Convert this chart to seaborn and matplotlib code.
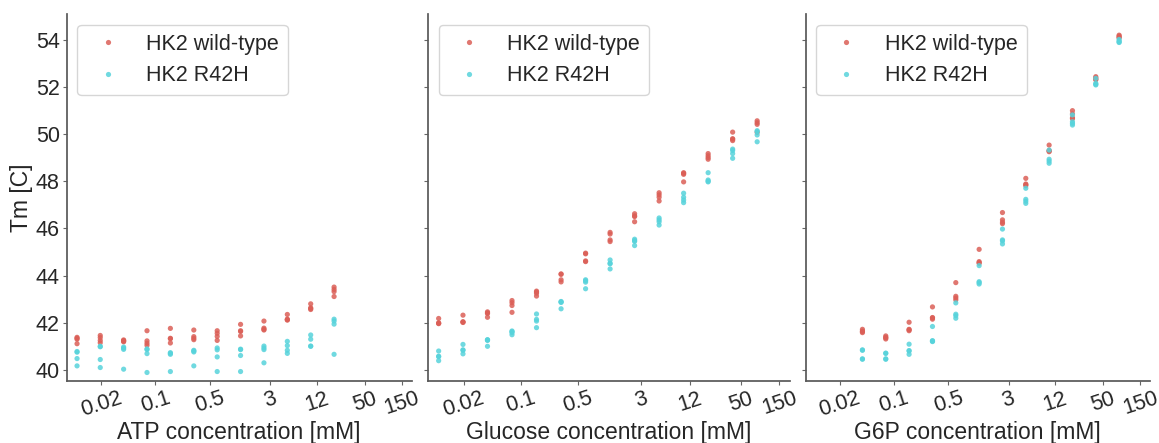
import numpy as np
import pandas as pd
import matplotlib
matplotlib.use("Agg")
import matplotlib.pyplot as plt
import seaborn as sns
from matplotlib.ticker import NullLocator, FixedLocator, FixedFormatter

# ---------------- data ----------------
series_names = ["HK2 wild-type", "HK2 R42H"]

atp_conc = [0.0098, 0.0195, 0.039, 0.078, 0.156, 0.3125, 0.625, 1.25, 2.5, 5, 10, 20]
atp_wt = [
    [41.38, 41.34, 41.30, 41.11], [41.46, 41.37, 41.25, 41.15], [41.27, 41.24, 41.22, 41.19],
    [41.66, 41.23, 41.13, 41.04], [41.76, 41.34, 41.32, 41.14], [41.69, 41.41, 41.34, 41.28],
    [41.66, 41.55, 41.42, 41.25], [41.93, 41.66, 41.63, 41.44], [42.07, 41.77, 41.72, 41.69],
    [42.35, 42.15, 42.13, 42.11], [42.80, 42.63, 42.60, 42.56], [43.51, 43.41, 43.32, 43.11],
]
atp_mut = [
    [40.78, 40.75, 40.48, 40.17], [41.00, 40.98, 40.44, 40.10], [40.97, 40.92, 40.87, 40.03],
    [40.89, 40.86, 40.69, 39.89], [40.73, 40.70, 40.66, 39.93], [40.83, 40.80, 40.76, 40.17],
    [40.93, 40.85, 40.55, 39.93], [40.88, 40.86, 40.61, 39.93], [41.01, 40.93, 40.86, 40.30],
    [41.21, 41.03, 40.83, 40.70], [41.48, 41.30, 41.01, 41.00], [42.15, 42.07, 41.94, 40.66],
]

glc_conc = [0.0098, 0.0195, 0.039, 0.078, 0.156, 0.3125, 0.625, 1.25, 2.5, 5, 10, 20, 40, 80]
glc_wt = [
    [42.18, 41.99, 41.98, 41.96], [42.32, 42.04, 42.03, 42.01], [42.46, 42.42, 42.39, 42.23],
    [42.94, 42.85, 42.73, 42.44], [43.34, 43.30, 43.25, 43.13], [44.07, 44.05, 43.82, 43.73],
    [44.95, 44.92, 44.62, 44.59], [45.83, 45.76, 45.51, 45.44], [46.62, 46.53, 46.50, 46.28],
    [47.51, 47.42, 47.32, 47.16], [48.36, 48.33, 48.29, 47.97], [49.17, 49.08, 49.00, 48.93],
    [50.08, 49.80, 49.78, 49.72], [50.56, 50.48, 50.41, 50.07],
]
glc_mut = [
    [40.80, 40.58, 40.56, 40.39], [41.08, 40.85, 40.83, 40.68], [41.28, 41.27, 41.25, 41.00],
    [41.65, 41.62, 41.58, 41.49], [42.37, 42.14, 42.07, 41.79], [42.90, 42.88, 42.86, 42.59],
    [43.82, 43.78, 43.72, 43.44], [44.66, 44.52, 44.50, 44.28], [45.54, 45.48, 45.45, 45.27],
    [46.44, 46.36, 46.28, 46.14], [47.49, 47.32, 47.20, 47.09], [48.36, 48.05, 48.00, 47.97],
    [49.36, 49.30, 49.17, 48.97], [50.14, 50.10, 49.96, 49.67],
]

g6p_conc = [0.039, 0.078, 0.156, 0.3125, 0.625, 1.25, 2.5, 5, 10, 20, 40, 80]
g6p_wt = [
    [41.72, 41.65, 41.62, 41.58], [41.44, 41.38, 41.36, 41.31], [42.02, 41.72, 41.70, 41.66],
    [42.67, 42.22, 42.20, 42.15], [43.70, 43.12, 43.05, 42.97], [45.11, 44.59, 44.55, 44.52],
    [46.67, 46.36, 46.26, 46.20], [48.12, 47.88, 47.85, 47.81], [49.53, 49.30, 49.28, 49.25],
    [50.99, 50.85, 50.69, 50.65], [52.43, 52.38, 52.32, 52.30], [54.19, 54.15, 54.10, 54.08],
]
g6p_mut = [
    [40.85, 40.83, 40.47, 40.45], [40.71, 40.70, 40.47, 40.45], [41.09, 40.82, 40.80, 40.66],
    [41.84, 41.24, 41.22, 41.20], [42.84, 42.36, 42.30, 42.19], [44.42, 43.74, 43.70, 43.64],
    [45.97, 45.51, 45.47, 45.34], [47.70, 47.23, 47.15, 47.06], [49.32, 48.93, 48.85, 48.76],
    [50.81, 50.52, 50.45, 50.38], [52.36, 52.15, 52.11, 52.08], [54.01, 53.95, 53.90, 53.88],
]

panel_xlabels = ["ATP concentration [mM]", "Glucose concentration [mM]", "G6P concentration [mM]"]
x_ticks = [0.02, 0.1, 0.5, 3, 12, 50, 150]
x_ticklabels = ["0.02", "0.1", "0.5", "3", "12", "50", "150"]
y_ticks = [40, 42, 44, 46, 48, 50, 52, 54]
y_label = "Tm [C]"

# ---------------- build frames ----------------
def long_frame(conc, wt, mut):
    rows = []
    for name, vals in zip(series_names, [wt, mut]):
        for c, reps in zip(conc, vals):
            for v in reps:
                rows.append({"conc": c, "Tm": v, "variant": name})
    return pd.DataFrame(rows)

frames = [long_frame(atp_conc, atp_wt, atp_mut),
          long_frame(glc_conc, glc_wt, glc_mut),
          long_frame(g6p_conc, g6p_wt, g6p_mut)]

# ---------------- style ----------------
sns.set_theme(style="ticks")
plt.rcParams["font.family"] = ["Liberation Sans", "DejaVu Sans"]
palette = sns.color_palette("hls", 2)

fig = plt.figure(figsize=(11.59, 4.43), dpi=100)
gs = fig.add_gridspec(1, 3, width_ratios=[345, 361.7, 344.3],
                      left=0.0575, right=0.9922, bottom=0.14, top=0.968, wspace=0.0457)
axes = []
for i in range(3):
    ax = fig.add_subplot(gs[i], sharey=axes[0] if axes else None)
    axes.append(ax)

tick_fs = 15.5
label_fs = 16.5
for i, (ax, df) in enumerate(zip(axes, frames)):
    sns.scatterplot(data=df, x="conc", y="Tm", hue="variant", hue_order=series_names,
                    palette=palette, s=14, linewidth=0, alpha=0.85, ax=ax)
    ax.set_xscale("log")
    ax.set_xlim(0.0072, 200)
    ax.set_ylim(39.53, 55.08)
    ax.xaxis.set_major_locator(FixedLocator(x_ticks))
    ax.xaxis.set_major_formatter(FixedFormatter(x_ticklabels))
    ax.xaxis.set_minor_locator(NullLocator())
    ax.set_yticks(y_ticks)
    for lab in ax.get_xticklabels():
        lab.set_rotation(18)
        lab.set_ha("center")
    ax.tick_params(axis="both", labelsize=tick_fs, colors=".4", length=3, width=0.8, pad=2)
    ax.tick_params(axis="both", labelcolor=".15")
    ax.set_xlabel(panel_xlabels[i], fontsize=label_fs, color=".15", labelpad=0)
    if i == 0:
        ax.set_ylabel(y_label, fontsize=label_fs, color=".15", labelpad=2)
    else:
        ax.set_ylabel("")
        ax.tick_params(axis="y", labelleft=False)
    handles, labels = ax.get_legend_handles_labels()
    ax.legend(handles, labels, loc="upper left", fontsize=tick_fs)
    for sp in ["top", "right"]:
        ax.spines[sp].set_visible(False)
    for sp in ["left", "bottom"]:
        ax.spines[sp].set_color(".35")

fig.savefig("out.png", dpi=100)
